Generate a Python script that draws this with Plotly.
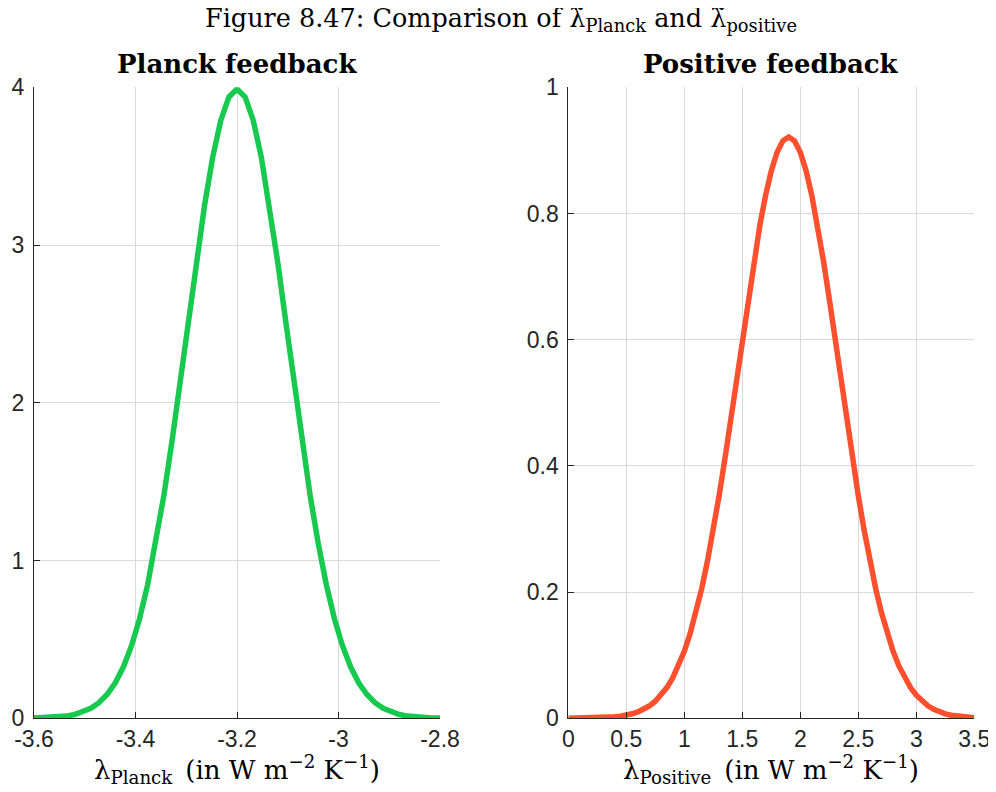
import plotly.graph_objects as go

# ---- data ----
planck_x = [round(-3.6 + 0.016 * i, 3) for i in range(51)]
planck_half = [0.0013, 0.0025, 0.0046, 0.0081, 0.0141, 0.0239, 0.0393, 0.0631, 0.0987,
               0.1506, 0.2239, 0.3246, 0.4587, 0.6316, 0.8478, 1.1092, 1.4147, 1.7585,
               2.1307, 2.5165, 2.8969, 3.2506, 3.5553, 3.7903, 3.9387]
planck_peak = [3.9894]
planck_y = planck_half + planck_peak + planck_half[::-1]

pos_x = [round(0.05 * i, 2) for i in range(71)]
pos_y = [0.00006, 0.00010, 0.00016, 0.00026, 0.00041, 0.00065, 0.0010, 0.0015, 0.0023,
         0.0034, 0.0049, 0.0071, 0.0102, 0.0143, 0.0198, 0.0271, 0.0366, 0.0487, 0.0640,
         0.0830, 0.1062, 0.1342, 0.1672, 0.2056, 0.2494, 0.2986, 0.3527, 0.4112, 0.4730,
         0.5369, 0.6013, 0.6645, 0.7247, 0.7799, 0.8281, 0.8676, 0.8971, 0.9152, 0.9213,
         0.9152, 0.8971, 0.8676, 0.8281, 0.7799, 0.7247, 0.6645, 0.6013, 0.5369, 0.4730,
         0.4112, 0.3527, 0.2986, 0.2494, 0.2056, 0.1672, 0.1342, 0.1062, 0.0830, 0.0640,
         0.0487, 0.0366, 0.0271, 0.0198, 0.0143, 0.0102, 0.0071, 0.0049, 0.0034, 0.0023,
         0.0015, 0.0010]

planck_xticks = [-3.6, -3.4, -3.2, -3.0, -2.8]
planck_xticktext = ["-3.6", "-3.4", "-3.2", "-3", "-2.8"]
planck_yticks = [0, 1, 2, 3, 4]
pos_xticks = [0, 0.5, 1, 1.5, 2, 2.5, 3, 3.5]
pos_xticktext = ["0", "0.5", "1", "1.5", "2", "2.5", "3", "3.5"]
pos_yticks = [0, 0.2, 0.4, 0.6, 0.8, 1]
pos_yticktext = ["0", "0.2", "0.4", "0.6", "0.8", "1"]

# page offset of the figure (body margin) and figure size
OFF = 8
W, H = 996 - OFF, 792 - OFF
SERIF = "DejaVu Serif"
SANS = "Liberation Sans"
AX = "#262626"
GRID = "#d9d9d9"

def px(p):   # page x pixel -> paper fraction
    return (p - OFF) / W

def py(p):   # page y pixel -> paper fraction
    return 1 - (p - OFF) / H

fig = go.Figure()
fig.add_trace(go.Scatter(x=planck_x, y=planck_y, mode="lines",
                         line=dict(color="#17c94f", width=5.5), xaxis="x", yaxis="y",
                         showlegend=False))
fig.add_trace(go.Scatter(x=pos_x, y=pos_y, mode="lines",
                         line=dict(color="#fe4f2e", width=5.5), xaxis="x2", yaxis="y2",
                         showlegend=False))

ydom = [py(718.3), py(87.3)]
common = dict(showline=True, linecolor=AX, linewidth=1, ticks="inside", ticklen=6,
              tickcolor=AX, showgrid=True, gridcolor=GRID, gridwidth=1, zeroline=False,
              tickfont=dict(family=SANS, size=23, color=AX), mirror=False,
              automargin=False)

fig.update_layout(
    template="none",
    width=W, height=H, margin=dict(l=0, r=0, t=0, b=0),
    paper_bgcolor="white", plot_bgcolor="white",
    xaxis=dict(domain=[px(34), px(440)], range=[-3.6, -2.8], tickvals=planck_xticks,
               ticktext=planck_xticktext, anchor="y", **common),
    yaxis=dict(domain=ydom, range=[0, 4], tickvals=planck_yticks, anchor="x",
               ticklabelstandoff=4, **common),
    xaxis2=dict(domain=[px(568.3), px(974.3)], range=[0, 3.5], tickvals=pos_xticks,
                ticktext=pos_xticktext, anchor="y2", **common),
    yaxis2=dict(domain=ydom, range=[0, 1], tickvals=pos_yticks, ticktext=pos_yticktext,
                anchor="x2", ticklabelstandoff=4, **common),
)

def ann(text, xc, yc, size, bold=False):
    fig.add_annotation(text=("<b>%s</b>" % text) if bold else text,
                       x=px(xc), y=py(yc), xref="paper", yref="paper",
                       xanchor="center", yanchor="middle", showarrow=False,
                       font=dict(family=SERIF, size=size, color="#000000"))

ann("Figure 8.47: Comparison of λ\u0303<sub>Planck</sub> and λ\u0303<sub>positive</sub>",
    501, 20, 25.5)
ann("Planck feedback", 237, 64, 26, bold=True)
ann("Positive feedback", 771, 64, 26, bold=True)
ann("λ<sub>Planck</sub>\u2002(in W m<sup>\u22122</sup> K<sup>\u22121</sup>)", 237, 769, 26)
ann("λ<sub>Positive</sub>\u2002(in W m<sup>\u22122</sup> K<sup>\u22121</sup>)", 771, 769, 26)

fig.write_html("out.html")
